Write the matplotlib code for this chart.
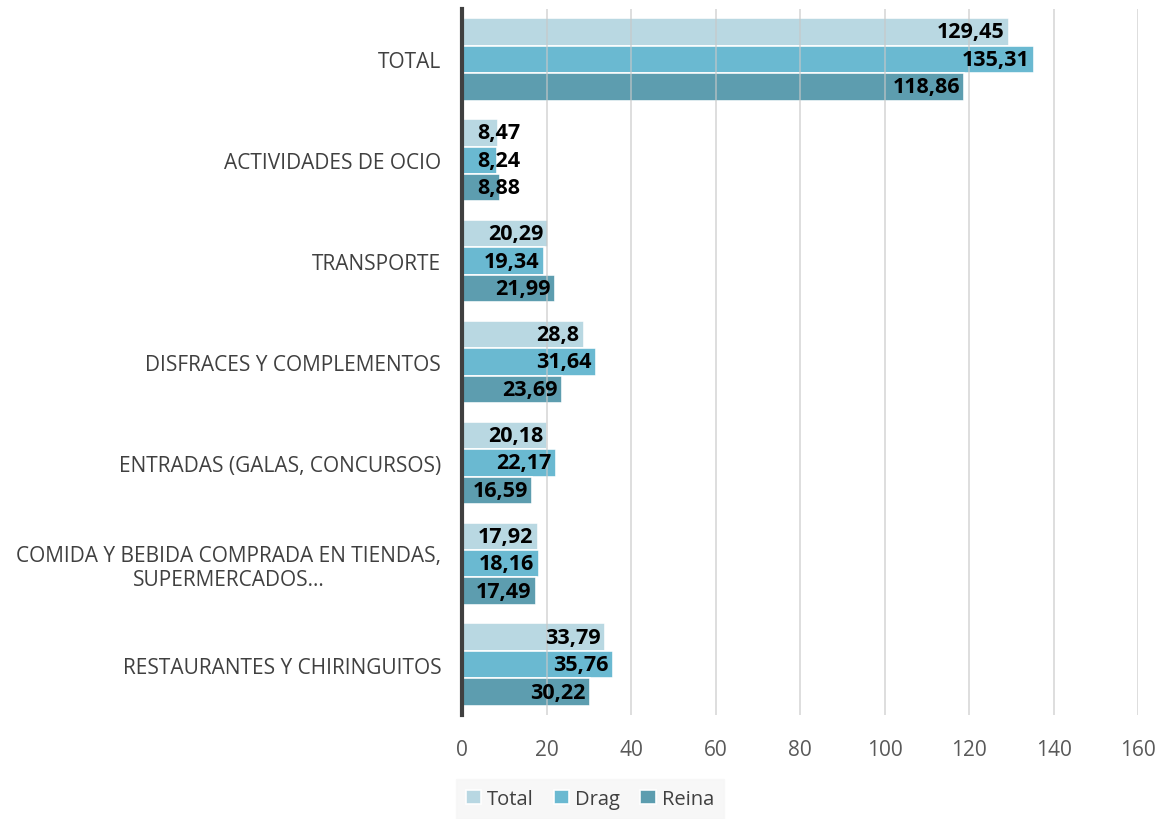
import matplotlib
matplotlib.use("Agg")
import matplotlib.pyplot as plt
import numpy as np

categories = ["TOTAL", "ACTIVIDADES DE OCIO", "TRANSPORTE", "DISFRACES Y COMPLEMENTOS",
              "ENTRADAS (GALAS, CONCURSOS)", "COMIDA Y BEBIDA COMPRADA EN TIENDAS,\nSUPERMERCADOS...",
              "RESTAURANTES Y CHIRINGUITOS"]
total = [129.45, 8.47, 20.29, 28.8, 20.18, 17.92, 33.79]
drag = [135.31, 8.24, 19.34, 31.64, 22.17, 18.16, 35.76]
reina = [118.86, 8.88, 21.99, 23.69, 16.59, 17.49, 30.22]
series_names = ["Total", "Drag", "Reina"]
xticks = [0, 20, 40, 60, 80, 100, 120, 140, 160]

colors = ["#b5d6e1", "#62b6cf", "#5498ab"]

plt.rcParams['font.family'] = ['Open Sans', 'DejaVu Sans']

fig = plt.figure(figsize=(11.65, 8.2), dpi=100)
ax = fig.add_axes([462/1165, 1-716/820, 676/1165, 706/820])

y = np.arange(len(categories))
h = 0.272
for i, (vals, name, c) in enumerate(zip([total, drag, reina], series_names, colors)):
    pos = y + (i - 1) * h
    ax.barh(pos, vals, height=h, color=c, edgecolor="white", linewidth=1.2,
            label=name, zorder=2, alpha=0.95)
    for p, v in zip(pos, vals):
        txt = f"{v:g}".replace(".", ",")
        if v > 13:
            ax.text(v - 1.0, p, txt, ha="right", va="center", fontsize=15.5,
                    fontweight="bold", color="black", zorder=4)
        else:
            ax.text(3.6, p, txt, ha="left", va="center", fontsize=15.5,
                    fontweight="bold", color="black", zorder=4)

ax.set_xlim(0, 160)
ax.set_ylim(len(categories) - 0.5, -0.5)
ax.set_xticks(xticks)
ax.set_xticklabels([str(t) for t in xticks], fontsize=15, color="#595959")
ax.set_yticks(y)
ax.set_yticklabels(categories, fontsize=15, color="#404040")
ax.tick_params(axis="both", length=0)
ax.tick_params(axis="x", pad=17)
ax.tick_params(axis="y", pad=15)
for lab in ax.get_yticklabels():
    lab.set_horizontalalignment("right")
    lab.set_multialignment("center")

ax.grid(axis="x", color="#c8c8c8", linewidth=1.2, zorder=3, alpha=0.7)
ax.set_axisbelow(False)
for s in ["top", "right", "bottom"]:
    ax.spines[s].set_visible(False)
ax.spines["left"].set_color("#404040")
ax.spines["left"].set_linewidth(3)
ax.spines["left"].set_zorder(5)

leg = fig.legend(loc="center", bbox_to_anchor=(590/1165, 1-800/820), ncol=3,
                 frameon=True, fontsize=14.5, handlelength=0.75, handleheight=0.75,
                 handletextpad=0.3, columnspacing=1.0, borderpad=0.5,
                 fancybox=False)
leg.get_frame().set_facecolor("#f6f6f6")
leg.get_frame().set_edgecolor("#f6f6f6")
for t in leg.get_texts():
    t.set_color("#404040")

fig.savefig("out.png", dpi=100)
